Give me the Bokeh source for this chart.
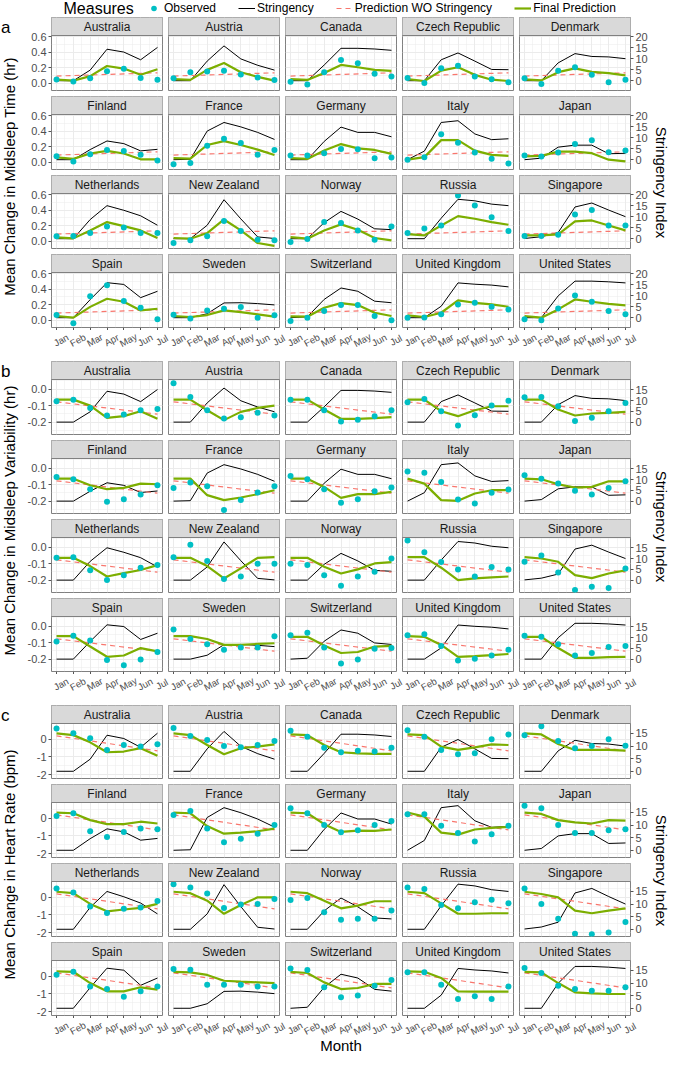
import math
from bokeh.plotting import figure
from bokeh.models import (Range1d, LinearAxis, FixedTicker, PrintfTickFormatter,
                          Legend, LegendItem)
from bokeh.layouts import row, column
from bokeh.embed import file_html
from bokeh.resources import INLINE
from bokeh.core.properties import value

# ---------------- data ----------------
COUNTRIES = ["Australia", "Austria", "Canada", "Czech Republic", "Denmark",
             "Finland", "France", "Germany", "Italy", "Japan",
             "Netherlands", "New Zealand", "Norway", "Russia", "Singapore",
             "Spain", "Sweden", "Switzerland", "United Kingdom", "United States"]
MONTHS = ["Jan", "Feb", "Mar", "Apr", "May", "Jun", "Jul"]
MONTH_NUM = [1, 2, 3, 4, 5, 6, 7]
SERIES = ["Observed", "Stringency", "Prediction WO Stringency", "Final Prediction"]

# Stringency index (right axis), same for every measure
STRINGENCY = [
    [0, 0, 4.8, 14.3, 13.0, 9.5, 15.1],
    [0, 0, 8.9, 15.8, 9.9, 7.0, 4.8],
    [0, 0, 7.1, 14.7, 14.7, 14.4, 13.8],
    [0, 0, 9.5, 12.6, 8.9, 5.1, 5.0],
    [0, 0, 8.1, 12.3, 11.0, 10.8, 10.0],
    [0, 0, 4.6, 8.5, 7.3, 4.0, 4.7],
    [0, 0.2, 13.0, 16.9, 14.9, 12.4, 9.2],
    [0, 0, 8.3, 14.8, 12.4, 12.4, 10.4],
    [0, 3.9, 16.9, 17.7, 11.7, 9.1, 9.5],
    [0, 0.7, 5.7, 6.6, 6.6, 2.7, 2.9],
    [0, 0, 8.7, 15.0, 12.9, 10.4, 6.1],
    [0, 0, 6.1, 17.7, 9.0, 0.8, 0.1],
    [0, 0, 7.3, 12.4, 8.9, 4.5, 4.1],
    [0, 0, 9.3, 17.9, 17.2, 15.7, 15.0],
    [0.1, 0.9, 2.8, 14.4, 16.2, 13.0, 10.0],
    [0, 0, 8.2, 15.9, 15.1, 9.1, 12.0],
    [0, 0, 1.8, 6.7, 6.8, 6.4, 5.8],
    [0, 0.4, 8.3, 13.5, 12.0, 7.5, 6.8],
    [0, 0, 5.2, 15.8, 15.2, 14.8, 14.0],
    [0, 0, 9.9, 16.6, 16.6, 16.3, 15.8],
]

# Panel a: midsleep time (hr)
A_OBSERVED = [
    [0.047, 0.02, 0.06, 0.153, 0.183, 0.064, 0.043],
    [0.06, 0.14, 0.15, 0.16, 0.11, 0.07, 0.04],
    [0.017, -0.02, 0.14, 0.298, 0.255, 0.12, 0.085],
    [0.064, 0.0, 0.19, 0.225, 0.085, 0.05, 0.01],
    [0.06, -0.013, 0.16, 0.204, 0.106, 0.009, 0.043],
    [0.076, 0.008, 0.1, 0.156, 0.143, 0.093, 0.02],
    [-0.03, -0.013, 0.21, 0.3, 0.245, 0.093, 0.156],
    [0.084, 0.084, 0.114, 0.169, 0.165, 0.05, 0.059],
    [0.03, 0.063, 0.359, 0.249, 0.122, 0.042, -0.02],
    [0.084, 0.072, 0.122, 0.232, 0.283, 0.127, 0.148],
    [0.06, 0.064, 0.103, 0.189, 0.176, 0.103, 0.103],
    [-0.026, 0.009, 0.06, 0.258, 0.129, 0.017, 0.009],
    [-0.013, 0.026, 0.245, 0.232, 0.137, 0.017, 0.189],
    [0.103, 0.163, 0.2, 0.588, 0.459, 0.309, 0.129],
    [0.064, 0.064, 0.082, 0.343, 0.403, 0.2, 0.2],
    [0.064, -0.043, 0.309, 0.45, 0.245, 0.159, 0.009],
    [0.069, 0.021, 0.124, 0.146, 0.167, 0.03, 0.06],
    [-0.013, 0.03, 0.116, 0.193, 0.193, 0.052, -0.004],
    [0.03, 0.034, 0.073, 0.202, 0.223, 0.172, 0.137],
    [0.009, -0.004, 0.15, 0.318, 0.236, 0.116, 0.073],
]
A_FINAL = [
    [0.043, 0.03, 0.089, 0.22, 0.187, 0.106, 0.179],
    [0.05, 0.04, 0.17, 0.26, 0.14, 0.08, 0.03],
    [0.05, 0.04, 0.13, 0.234, 0.204, 0.17, 0.157],
    [0.05, 0.026, 0.16, 0.204, 0.106, 0.043, 0.026],
    [0.047, 0.034, 0.14, 0.19, 0.145, 0.128, 0.098],
    [0.06, 0.04, 0.11, 0.145, 0.11, 0.035, 0.035],
    [0.05, 0.045, 0.22, 0.27, 0.22, 0.16, 0.09],
    [0.05, 0.04, 0.15, 0.232, 0.177, 0.156, 0.105],
    [0.03, 0.063, 0.283, 0.283, 0.148, 0.093, 0.08],
    [0.072, 0.08, 0.135, 0.135, 0.114, 0.03, 0.008],
    [0.047, 0.034, 0.137, 0.245, 0.193, 0.137, 0.039],
    [0.039, 0.03, 0.103, 0.279, 0.137, -0.026, -0.064],
    [0.05, 0.03, 0.137, 0.215, 0.146, 0.039, 0.009],
    [0.09, 0.073, 0.2, 0.322, 0.288, 0.245, 0.21],
    [0.073, 0.073, 0.086, 0.253, 0.266, 0.2, 0.137],
    [0.052, 0.03, 0.17, 0.275, 0.236, 0.124, 0.146],
    [0.052, 0.039, 0.064, 0.124, 0.103, 0.073, 0.043],
    [0.047, 0.043, 0.159, 0.219, 0.193, 0.094, 0.052],
    [0.06, 0.039, 0.094, 0.253, 0.223, 0.202, 0.172],
    [0.052, 0.03, 0.137, 0.266, 0.236, 0.21, 0.189],
]
A_PRED_WO = [0.09, 0.132]          # Jan, Jul

# Panel b: midsleep variability (hr)
B_OBSERVED = [
    [-0.074, -0.064, -0.114, -0.16, -0.154, -0.128, -0.12],
    [0.036, -0.048, -0.128, -0.178, -0.17, -0.144, -0.16],
    [-0.064, -0.064, -0.128, -0.196, -0.186, -0.164, -0.128],
    [-0.08, -0.06, -0.134, -0.22, -0.158, -0.1, -0.07],
    [-0.05, -0.048, -0.104, -0.194, -0.174, -0.134, -0.084],
    [-0.054, -0.068, -0.128, -0.204, -0.188, -0.16, -0.104],
    [-0.12, -0.088, -0.11, -0.254, -0.194, -0.148, -0.11],
    [-0.048, -0.068, -0.128, -0.21, -0.188, -0.14, -0.118],
    [-0.02, -0.028, -0.084, -0.19, -0.214, -0.15, -0.13],
    [-0.044, -0.064, -0.094, -0.138, -0.16, -0.12, -0.08],
    [-0.065, -0.061, -0.141, -0.2, -0.17, -0.125, -0.109],
    [-0.061, 0.014, -0.085, -0.194, -0.178, -0.101, -0.101],
    [-0.101, -0.109, -0.17, -0.234, -0.178, -0.15, -0.069],
    [0.04, -0.032, -0.091, -0.135, -0.178, -0.121, -0.135],
    [-0.089, -0.051, -0.154, -0.26, -0.24, -0.248, -0.129],
    [-0.094, -0.059, -0.088, -0.206, -0.237, -0.202, -0.157],
    [-0.02, -0.078, -0.11, -0.143, -0.129, -0.129, -0.061],
    [-0.055, -0.041, -0.129, -0.227, -0.202, -0.137, -0.133],
    [-0.055, -0.049, -0.12, -0.208, -0.198, -0.178, -0.143],
    [-0.059, -0.065, -0.11, -0.178, -0.163, -0.127, -0.12],
]
B_FINAL = [
    [-0.064, -0.064, -0.1, -0.174, -0.164, -0.134, -0.18],
    [-0.064, -0.064, -0.128, -0.188, -0.138, -0.114, -0.1],
    [-0.064, -0.064, -0.124, -0.18, -0.18, -0.176, -0.17],
    [-0.064, -0.064, -0.134, -0.164, -0.128, -0.104, -0.104],
    [-0.064, -0.064, -0.124, -0.16, -0.148, -0.144, -0.138],
    [-0.064, -0.064, -0.104, -0.128, -0.12, -0.094, -0.098],
    [-0.064, -0.064, -0.164, -0.194, -0.178, -0.158, -0.134],
    [-0.064, -0.064, -0.114, -0.18, -0.158, -0.158, -0.144],
    [-0.064, -0.094, -0.194, -0.198, -0.154, -0.134, -0.134],
    [-0.064, -0.068, -0.098, -0.118, -0.114, -0.08, -0.08],
    [-0.065, -0.065, -0.115, -0.178, -0.158, -0.139, -0.109],
    [-0.065, -0.065, -0.115, -0.19, -0.129, -0.065, -0.061],
    [-0.065, -0.065, -0.119, -0.16, -0.135, -0.099, -0.091],
    [-0.061, -0.061, -0.125, -0.2, -0.19, -0.184, -0.178],
    [-0.061, -0.069, -0.089, -0.17, -0.188, -0.16, -0.141],
    [-0.061, -0.061, -0.124, -0.186, -0.178, -0.133, -0.153],
    [-0.061, -0.061, -0.078, -0.114, -0.114, -0.108, -0.104],
    [-0.065, -0.065, -0.118, -0.163, -0.157, -0.124, -0.12],
    [-0.061, -0.065, -0.114, -0.186, -0.182, -0.176, -0.169],
    [-0.065, -0.065, -0.133, -0.192, -0.192, -0.188, -0.186],
]
B_PRED_WO = [-0.077, -0.152]

# Panel c: heart rate (bpm)
C_OBSERVED = [
    [0.62, 0.34, 0.06, -0.6, -0.32, -0.41, -0.28],
    [0.65, 0.19, -0.04, -0.37, -0.45, -0.32, -0.09],
    [0.49, 0.15, -0.47, -0.73, -0.65, -0.69, -0.47],
    [0.52, 0.15, -0.6, -0.84, -0.79, 0.0, 0.28],
    [0.24, 0.75, -0.09, -0.5, -0.37, 0.0, -0.36],
    [0.13, 0.29, -0.73, -1.06, -0.77, -0.58, -0.62],
    [0.19, 0.42, -0.58, -1.35, -1.15, -0.87, -0.38],
    [0.58, 0.29, -0.38, -0.79, -0.67, -0.38, -0.15],
    [0.23, 0.23, -0.42, -0.83, -1.31, -0.9, -0.42],
    [0.71, 0.58, -0.38, -0.83, -0.83, -0.67, -0.62],
    [0.5, 0.28, -0.52, -0.88, -0.65, -0.58, -0.2],
    [0.75, 0.56, 0.22, -0.6, -0.41, -0.37, -0.09],
    [-0.15, -0.04, -0.84, -1.27, -1.21, -1.21, -0.75],
    [0.56, 0.47, -0.43, -0.62, -0.28, -0.13, -0.34],
    [0.5, -0.37, -1.21, -2.06, -2.09, -2.0, -1.4],
    [0.09, 0.26, -0.57, -0.72, -1.15, -0.85, -0.58],
    [0.42, 0.38, -0.47, -0.47, -0.47, -0.57, -0.58],
    [0.45, 0.36, -0.62, -1.19, -1.09, -0.53, -0.21],
    [0.23, 0.23, -0.47, -1.28, -1.13, -1.28, -0.57],
    [0.47, 0.19, -0.53, -0.72, -0.81, -0.81, -0.62],
]
C_FINAL = [
    [0.34, 0.24, -0.17, -0.73, -0.69, -0.5, -0.93],
    [0.34, 0.24, -0.32, -0.84, -0.5, -0.41, -0.28],
    [0.28, 0.24, -0.32, -0.73, -0.79, -0.82, -0.82],
    [0.28, 0.24, -0.41, -0.6, -0.45, -0.28, -0.32],
    [0.34, 0.28, -0.26, -0.6, -0.6, -0.6, -0.64],
    [0.33, 0.29, -0.1, -0.33, -0.33, -0.19, -0.29],
    [0.33, 0.29, -0.44, -0.87, -0.81, -0.73, -0.58],
    [0.33, 0.29, -0.33, -0.77, -0.69, -0.71, -0.63],
    [0.33, 0.1, -0.81, -0.92, -0.63, -0.54, -0.48],
    [0.33, 0.25, -0.1, -0.23, -0.29, -0.1, -0.13],
    [0.32, 0.24, -0.37, -0.79, -0.69, -0.6, -0.37],
    [0.32, 0.24, -0.19, -0.93, -0.43, 0.0, 0.0],
    [0.32, 0.24, -0.19, -0.62, -0.47, -0.22, -0.22],
    [0.32, 0.24, -0.34, -0.93, -0.93, -0.9, -0.9],
    [0.32, 0.19, 0.0, -0.75, -0.9, -0.75, -0.62],
    [0.28, 0.26, -0.38, -0.85, -0.85, -0.62, -0.75],
    [0.26, 0.23, 0.08, -0.25, -0.3, -0.34, -0.38],
    [0.26, 0.19, -0.34, -0.72, -0.66, -0.43, -0.43],
    [0.28, 0.26, -0.09, -0.85, -0.87, -0.87, -0.87],
    [0.26, 0.23, -0.38, -0.91, -0.96, -1.0, -1.0],
]
C_PRED_WO = [0.2, -0.65]
PRED_WO_MONTHS = [1, 7]

# ---------------- style / layout ----------------
FONT = "Liberation Sans"
CYAN, RED, GREEN = "#00BFC4", "#F8766D", "#7CAE00"
BORDER = "#808080"
GRID = "#EBEBEB"
TICK = "#555555"
FRAME_W, STRIP_H, PLOT_H = 111, 18, 55
FRAME_H = STRIP_H + PLOT_H
X_LO, X_HI = 0.7, 7.3
PX_PER_UNIT = FRAME_W / (X_HI - X_LO)
COL_PITCH = FRAME_W + 6
LEFT_W, RIGHT_W = 19, 17
GRID_W = 146 + 3 * 117 + 136
TOTAL_W = LEFT_W + GRID_W + RIGHT_W
LABEL_H = 19

PANELS = [
    dict(letter="a", title="Mean Change in Midsleep Time (hr)",
         obs=A_OBSERVED, fin=A_FINAL, wo=A_PRED_WO,
         lo=-0.097, hi=0.615, ticks=[0.0, 0.2, 0.4, 0.6], minor=[0.1, 0.3, 0.5],
         fmt="%.1f", s0=0.03, sk=0.0285, sticks=[0, 5, 10, 15, 20], top=1),
    dict(letter="b", title="Mean Change in Midsleep Variability (hr)",
         obs=B_OBSERVED, fin=B_FINAL, wo=B_PRED_WO,
         lo=-0.275, hi=0.058, ticks=[-0.2, -0.1, 0.0], minor=[-0.25, -0.15, -0.05, 0.05],
         fmt="%.1f", s0=-0.2, sk=0.01306, sticks=[0, 5, 10, 15], top=12),
    dict(letter="c", title="Mean Change in Heart Rate (bpm)",
         obs=C_OBSERVED, fin=C_FINAL, wo=C_PRED_WO,
         lo=-2.22, hi=0.9, ticks=[-2, -1, 0], minor=[-1.5, -0.5, 0.5],
         fmt="%d", s0=-1.81, sk=0.143, sticks=[0, 5, 10, 15], top=12),
]


def style_axis(ax):
    ax.axis_line_color = None
    ax.major_tick_line_color = TICK
    ax.major_tick_line_width = 1
    ax.major_tick_out = 3
    ax.major_tick_in = 0
    ax.minor_tick_line_color = None
    ax.major_label_text_font = FONT
    ax.major_label_text_color = "#4D4D4D"
    ax.major_label_text_font_size = "11px"
    ax.major_label_standoff = 2


def facet(P, idx):
    r, c = divmod(idx, 5)
    lo, hi = P["lo"], P["hi"]
    hi_e = lo + (hi - lo) * FRAME_H / PLOT_H
    s_lo = (lo - P["s0"]) / P["sk"]
    s_hi = (hi_e - P["s0"]) / P["sk"]
    p = figure(frame_width=FRAME_W, frame_height=FRAME_H,
               x_range=Range1d(X_LO, X_HI), y_range=Range1d(lo, hi_e),
               x_axis_location=("below" if r == 3 else None),
               y_axis_location=("left" if c == 0 else None),
               min_border_left=(32 if c == 0 else 3),
               min_border_right=(22 if c == 4 else 3),
               min_border_top=(P["top"] if r == 0 else 3),
               min_border_bottom=3,
               toolbar_location=None, tools="", output_backend="svg", title=None)
    p.extra_y_ranges = {"s": Range1d(s_lo, s_hi), "strip": Range1d(0, FRAME_H)}
    p.outline_line_color = BORDER
    p.outline_line_width = 1
    mids = [(MONTH_NUM[i] + MONTH_NUM[i + 1]) / 2 for i in range(len(MONTH_NUM) - 1)]
    p.xgrid.ticker = FixedTicker(ticks=MONTH_NUM, minor_ticks=mids)
    p.ygrid.ticker = FixedTicker(ticks=P["ticks"], minor_ticks=P["minor"])
    for g in (p.xgrid, p.ygrid):
        g.grid_line_color = GRID
        g.grid_line_width = 1
        g.minor_grid_line_color = GRID
        g.minor_grid_line_width = 0.5

    # series
    p.line(MONTH_NUM, STRINGENCY[idx], y_range_name="s", line_color="black", line_width=1)
    p.line(PRED_WO_MONTHS, P["wo"], line_color=RED, line_dash="5 4", line_width=1.2)
    p.line(MONTH_NUM, P["fin"][idx], line_color=GREEN, line_width=2.2)
    p.scatter(MONTH_NUM, P["obs"][idx], size=6, fill_color=CYAN, line_color=None)

    # strip
    p.quad(left=[X_LO - 1], right=[X_HI + 1], bottom=[PLOT_H], top=[FRAME_H + 1],
           y_range_name="strip", fill_color="#D9D9D9", line_color=BORDER, line_width=1)
    p.text(x=[(X_LO + X_HI) / 2], y=[PLOT_H + STRIP_H / 2], text=[COUNTRIES[idx]],
           y_range_name="strip", text_align="center", text_baseline="middle",
           text_font=value(FONT), text_font_size="12px", text_color="#1A1A1A")

    # axes
    if c == 0:
        ax = p.yaxis[0]
        ax.ticker = FixedTicker(ticks=P["ticks"])
        ax.formatter = PrintfTickFormatter(format=P["fmt"])
        style_axis(ax)
    if c == 4:
        ax = LinearAxis(y_range_name="s", ticker=FixedTicker(ticks=P["sticks"]))
        style_axis(ax)
        p.add_layout(ax, "right")
    if r == 3:
        # month tick marks only (labels are drawn, rotated, in the strip below)
        ax = p.xaxis[0]
        ax.ticker = FixedTicker(ticks=[], minor_ticks=MONTH_NUM)
        ax.axis_line_color = None
        ax.major_tick_line_color = None
        ax.minor_tick_line_color = TICK
        ax.minor_tick_line_width = 1
        ax.minor_tick_out = 3
        ax.minor_tick_in = 0
        ax.major_tick_out = 0
        ax.major_tick_in = 0
    return p


def month_labels():
    """Rotated month tick labels under the bottom row, one x scale per facet column."""
    lb = 30
    fw = GRID_W - lb
    f = figure(frame_width=fw, frame_height=LABEL_H, x_range=Range1d(0, fw),
               y_range=Range1d(0, LABEL_H), x_axis_location=None, y_axis_location=None,
               min_border_left=lb, min_border_right=0, min_border_top=0, min_border_bottom=0,
               toolbar_location=None, tools="", output_backend="svg", title=None)
    f.grid.visible = False
    f.outline_line_color = None
    ranges = {}
    for c in range(5):
        start = X_LO - (32 - lb + c * COL_PITCH) / PX_PER_UNIT
        ranges["c%d" % c] = Range1d(start, start + fw / PX_PER_UNIT)
    f.extra_x_ranges = ranges
    for c in range(5):
        f.text(x=MONTH_NUM, y=[LABEL_H - 9.5] * len(MONTH_NUM), text=MONTHS,
               x_range_name="c%d" % c, x_offset=4.5, angle=0.5,
               text_align="center", text_baseline="middle",
               text_font=value(FONT), text_font_size="9.5px", text_color="#4D4D4D")
    return f


def blank(width, height):
    f = figure(width=width, height=height, x_range=Range1d(0, width), y_range=Range1d(0, height),
               x_axis_location=None, y_axis_location=None, min_border=0,
               toolbar_location=None, tools="", output_backend="svg", title=None)
    f.grid.visible = False
    f.outline_line_color = None
    return f


panel_rows = []
for P in PANELS:
    figs = [facet(P, i) for i in range(len(COUNTRIES))]
    grid = column(*[row(*figs[k * 5:(k + 1) * 5]) for k in range(4)], month_labels())
    ft = P["top"]
    H = ft + 3 * 79 + FRAME_H + 3 + LABEL_H
    left = blank(LEFT_W, H)
    left.text(x=[0.5], y=[H - ft - 10], text=[P["letter"]], text_align="left",
              text_baseline="middle", text_font=value(FONT), text_font_size="17px",
              text_color="black")
    left.text(x=[9], y=[H - (ft + 159)], text=[P["title"]], angle=math.pi / 2,
              text_align="center", text_baseline="middle", text_font=value(FONT),
              text_font_size="15px", text_color="black")
    right = blank(RIGHT_W, H)
    right.text(x=[RIGHT_W / 2], y=[H - (ft + 165)], text=["Stringency Index"],
               angle=-math.pi / 2, text_align="center", text_baseline="middle",
               text_font=value(FONT), text_font_size="15px", text_color="black")
    panel_rows.append(row(left, grid, right))

# legend
leg = blank(TOTAL_W, 16)
leg.text(x=[63], y=[8], text=["Measures"], text_align="left", text_baseline="middle",
         text_font=value(FONT), text_font_size="16px", text_color="black")
OFF = [-100]   # legend-only renderers, kept outside the visible range
r_obs = leg.scatter(x=OFF, y=OFF, size=6, fill_color=CYAN, line_color=None)
r_str = leg.line(x=OFF, y=OFF, line_color="black", line_width=1)
r_wo = leg.line(x=OFF, y=OFF, line_color=RED, line_dash="5 4", line_width=1.2)
r_fin = leg.line(x=OFF, y=OFF, line_color=GREEN, line_width=2.2)
legend = Legend(items=[LegendItem(label=SERIES[0], renderers=[r_obs]),
                       LegendItem(label=SERIES[1], renderers=[r_str]),
                       LegendItem(label=SERIES[2], renderers=[r_wo]),
                       LegendItem(label=SERIES[3], renderers=[r_fin])],
                orientation="horizontal", location=(145, 1),
                glyph_width=17, glyph_height=14, label_height=14, label_standoff=2,
                spacing=22, padding=0, margin=0, border_line_color=None,
                background_fill_alpha=0, label_text_font=FONT,
                label_text_font_size="12px", label_text_color="black")
leg.add_layout(legend)

month = blank(TOTAL_W, 16)
month.text(x=[LEFT_W + 32 + (5 * FRAME_W + 24) / 2], y=[8], text=["Month"],
           text_align="center", text_baseline="middle",
           text_font=value(FONT), text_font_size="15px", text_color="black")

layout = column(leg, *panel_rows, month)
open("out.html", "w").write(file_html(layout, INLINE))
